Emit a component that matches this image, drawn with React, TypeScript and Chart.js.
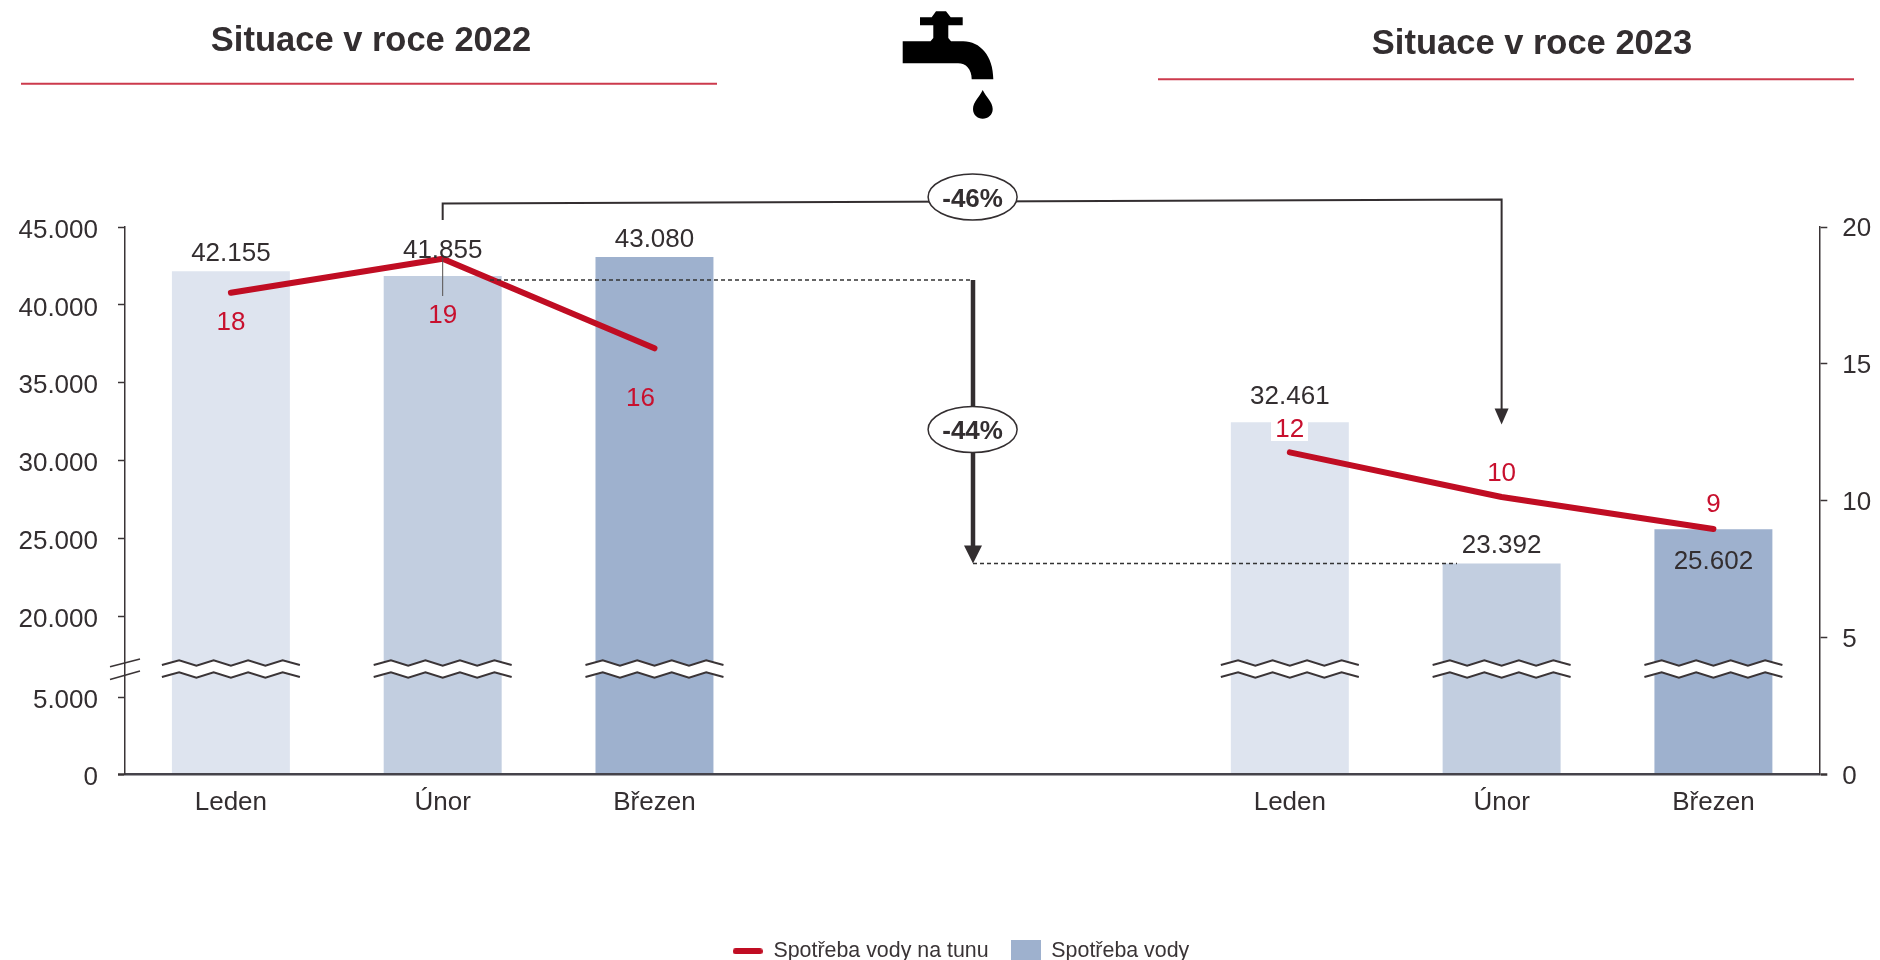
import React, { useEffect, useRef } from "react";
import { Chart, LinearScale, registerables } from "chart.js";

const categories = ["Leden", "Únor", "Březen", "", "", "Leden", "Únor", "Březen"];
const waterUse = [42155, 41855, 43080, null, null, 32461, 23392, 25602];
const waterPerTon = [17.6, 18.84, 15.57, null, null, 11.77, 10.14, 8.97];
const perTonLabels = ["18", "19", "16", "", "", "12", "10", "9"];
const barColors = ["#dee4ef", "#c2cee0", "#9eb1ce", "#dee4ef", "#c2cee0", "#dee4ef", "#c2cee0", "#9eb1ce"];
const leftTicks = [0, 5000, 20000, 25000, 30000, 35000, 40000, 45000];
const rightTicks = [0, 5, 10, 15, 20];
const titles = ["Situace v roce 2022", "Situace v roce 2023"];
const badges = ["-46%", "-44%"];
const legendNames = ["Spotřeba vody na tunu", "Spotřeba vody"];

// Piecewise axis: the range between 5.000 and 20.000 is compressed by the axis break.
const axisBreakValues = [0, 5000, 20000, 45000];
const axisBreakFractions = [0, 77 / 547, 158 / 547, 1];

// Offsets of value labels from their marks (px)
const barLabelDy = [-17.5, -25.5, -17.5, 0, 0, -25.5, -17.5, 32.5];
const lineLabelDy = [30.5, 57.5, 50.5, 0, 0, -22.5, -23.5, -24.5];
const lineLabelDx = [0, 0, -14, 0, 0, 0, 0, 0];

const FONT = '"Liberation Sans", Arial, sans-serif';
const DARK = "#332e30";
const AXIS = "#3a3436";
const RED = "#c8102e";
const LINE_RED = "#c00d23";
const RULE_RED = "#cc3a4c";

class BrokenScale extends LinearScale {
  static id = "brokenLinear";
  static defaults = LinearScale.defaults;
  getPixelForValue(value: number) {
    if (value === null || value === undefined) return NaN;
    const vs = axisBreakValues;
    const fs = axisBreakFractions;
    let i = 0;
    while (i < vs.length - 2 && value > vs[i + 1]) i++;
    const f = fs[i] + ((value - vs[i]) / (vs[i + 1] - vs[i])) * (fs[i + 1] - fs[i]);
    return this.getPixelForDecimal(f);
  }
}

Chart.register(...registerables, BrokenScale);

const thousands = (v: number) => String(v).replace(/\B(?=(\d{3})+$)/g, ".");

function swatch(w: number, h: number, draw: (c: CanvasRenderingContext2D) => void) {
  const cv = document.createElement("canvas");
  cv.width = w;
  cv.height = h;
  draw(cv.getContext("2d")!);
  return cv;
}

function text(ctx: CanvasRenderingContext2D, s: string, x: number, y: number, font: string, color: string) {
  ctx.font = font;
  ctx.fillStyle = color;
  ctx.textAlign = "center";
  ctx.textBaseline = "middle";
  ctx.fillText(s, x, y);
}

function poly(ctx: CanvasRenderingContext2D, pts: number[][]) {
  ctx.beginPath();
  pts.forEach((p, i) => (i ? ctx.lineTo(p[0], p[1]) : ctx.moveTo(p[0], p[1])));
}

function arrowHead(ctx: CanvasRenderingContext2D, x: number, tip: number, w: number, h: number) {
  poly(ctx, [[x - w / 2, tip - h], [x + w / 2, tip - h], [x, tip]]);
  ctx.closePath();
  ctx.fillStyle = DARK;
  ctx.fill();
}

function drawTap(ctx: CanvasRenderingContext2D) {
  const p = new Path2D(
    "M920 17.3 H931.7 L936 11.3 H946 L950.7 17.3 H962.7 V25.3 H948.3 V38 L951 41.3 H963.3 " +
      "C980 41.3 993.3 56 993.3 79.3 H971.7 C971.7 69 966 63.3 958 63.3 H902.7 V41.3 H930.5 L933.3 38 V25.3 H920 Z"
  );
  ctx.fillStyle = "#000";
  ctx.fill(p);
  const d = new Path2D("M982.7 90 C986 97 992.7 102 992.7 109 C992.7 115 988 118.7 982.7 118.7 C977.5 118.7 973 115 973 109 C973 102 979.5 97 982.7 90 Z");
  ctx.fill(d);
}

const legendShift = {
  id: "legendShift",
  afterLayout(chart: any) {
    chart.legend.left += 42;
    chart.legend.top += 12;
  },
};

const overlay = {
  id: "overlay",
  afterDatasetsDraw(chart: any) {
    const ctx: CanvasRenderingContext2D = chart.ctx;
    const barMeta = chart.getDatasetMeta(1);
    const lineMeta = chart.getDatasetMeta(0);
    const xs = chart.scales.x;
    ctx.save();

    // break marks over the bars
    const halfSpan = 69;
    const step = 138 / 8;
    waterUse.forEach((v, i) => {
      if (v === null) return;
      const cx = barMeta.data[i].x;
      const up: number[][] = [];
      const low: number[][] = [];
      for (let k = 0; k <= 8; k++) {
        const x = cx - halfSpan + k * step;
        const y = k === 0 || k === 8 ? 665 : k % 2 ? 660.4 : 665.8;
        up.push([x, y]);
        low.push([x, y + 12]);
      }
      poly(ctx, [...up, ...low.slice().reverse()]);
      ctx.closePath();
      ctx.fillStyle = "#fff";
      ctx.fill();
      ctx.strokeStyle = AXIS;
      ctx.lineWidth = 2;
      ctx.lineJoin = "miter";
      poly(ctx, up);
      ctx.stroke();
      poly(ctx, low);
      ctx.stroke();
    });

    // thin stem under the middle 2022 point
    ctx.strokeStyle = "#55504f";
    ctx.lineWidth = 1;
    poly(ctx, [[xs.getPixelForValue(1), 258], [xs.getPixelForValue(1), 296]]);
    ctx.stroke();

    // white plate behind the label 12
    ctx.fillStyle = "#fff";
    ctx.fillRect(1271, 421, 37, 20);

    // value labels
    const f26 = `26px ${FONT}`;
    waterUse.forEach((v, i) => {
      if (v === null) return;
      const el = barMeta.data[i];
      text(ctx, thousands(v), el.x, el.y + barLabelDy[i], f26, DARK);
    });
    perTonLabels.forEach((s, i) => {
      if (!s) return;
      const el = lineMeta.data[i];
      text(ctx, s, el.x + lineLabelDx[i], el.y + lineLabelDy[i], f26, RED);
    });

    // dashed guides
    ctx.strokeStyle = "#333";
    ctx.lineWidth = 1.3;
    ctx.setLineDash([4, 3]);
    poly(ctx, [[490, 280], [972, 280]]);
    ctx.stroke();
    poly(ctx, [[973, 563.5], [1457, 563.5]]);
    ctx.stroke();
    ctx.setLineDash([]);

    // -46% connector
    const a = xs.getPixelForValue(1);
    const b = xs.getPixelForValue(6);
    ctx.strokeStyle = DARK;
    ctx.lineWidth = 2;
    poly(ctx, [[a, 220], [a, 203.5], [b, 199.5], [b, 412]]);
    ctx.stroke();
    arrowHead(ctx, b, 424.5, 14, 16);

    // -44% arrow
    ctx.lineWidth = 4.5;
    poly(ctx, [[973, 280], [973, 548]]);
    ctx.stroke();
    arrowHead(ctx, 973, 563.5, 18, 18);

    // badges
    [[972.6, 197], [972.6, 429.5]].forEach((c, i) => {
      ctx.beginPath();
      ctx.ellipse(c[0], c[1], 44.5, 23, 0, 0, Math.PI * 2);
      ctx.fillStyle = "#fff";
      ctx.fill();
      ctx.strokeStyle = DARK;
      ctx.lineWidth = 1.5;
      ctx.stroke();
      text(ctx, badges[i], c[0], c[1] + 2.5, `bold 26px ${FONT}`, DARK);
    });

    // left axis break
    ctx.fillStyle = "#fff";
    ctx.fillRect(122, 663, 6, 12);
    ctx.strokeStyle = AXIS;
    ctx.lineWidth = 1.5;
    poly(ctx, [[110, 666.7], [140, 659]]);
    ctx.stroke();
    poly(ctx, [[110, 679.5], [140, 671]]);
    ctx.stroke();

    // headings
    const fb = `bold 34.5px ${FONT}`;
    text(ctx, titles[0], 371, 41.5, fb, DARK);
    text(ctx, titles[1], 1532, 44.5, fb, DARK);
    ctx.strokeStyle = RULE_RED;
    ctx.lineWidth = 2;
    poly(ctx, [[21, 83.7], [717, 83.7]]);
    ctx.stroke();
    poly(ctx, [[1158, 79.3], [1854, 79.3]]);
    ctx.stroke();

    drawTap(ctx);
    ctx.restore();
  },
};

export default function App() {
  const ref = useRef<HTMLCanvasElement>(null);
  useEffect(() => {
    Chart.defaults.font.family = FONT;
    const lineSwatch = swatch(30, 6, (c) => {
      c.fillStyle = LINE_RED;
      c.beginPath();
      c.roundRect(0, 0, 30, 6, 3);
      c.fill();
    });
    const barSwatch = swatch(30, 23, (c) => {
      c.fillStyle = "#9eb1ce";
      c.fillRect(0, 0, 30, 23);
    });
    const chart = new Chart(ref.current!, {
      type: "bar",
      data: {
        labels: categories,
        datasets: [
          {
            type: "line",
            label: legendNames[0],
            data: waterPerTon,
            yAxisID: "y1",
            borderColor: LINE_RED,
            backgroundColor: LINE_RED,
            borderWidth: 6,
            borderCapStyle: "round",
            borderJoinStyle: "round",
            pointRadius: 0,
            tension: 0,
            spanGaps: false,
            order: 0,
          },
          {
            type: "bar",
            label: legendNames[1],
            data: waterUse,
            yAxisID: "y",
            backgroundColor: barColors,
            barPercentage: 1,
            categoryPercentage: 0.557,
            order: 1,
          },
        ],
      } as any,
      options: {
        responsive: false,
        animation: false,
        devicePixelRatio: 1,
        layout: { autoPadding: false, padding: { left: 0, top: 227, right: 0, bottom: 0 } },
        plugins: {
          title: { display: false },
          tooltip: { enabled: false },
          legend: {
            position: "bottom",
            labels: {
              usePointStyle: true,
              pointStyleWidth: 30,
              padding: 22,
              color: AXIS,
              font: { size: 21.4, family: FONT },
              generateLabels: () => [
                { text: legendNames[0], pointStyle: lineSwatch, fillStyle: LINE_RED, strokeStyle: LINE_RED, lineWidth: 0, datasetIndex: 0, fontColor: AXIS },
                { text: legendNames[1], pointStyle: barSwatch, fillStyle: "#9eb1ce", strokeStyle: "#9eb1ce", lineWidth: 0, datasetIndex: 1, fontColor: AXIS },
              ],
            },
          },
        },
        scales: {
          x: {
            type: "category",
            offset: true,
            afterFit: (s: any) => {
              s.height = 132;
            },
            grid: { display: false, drawTicks: false },
            border: { color: "#45434a", width: 2.5, z: 1 },
            ticks: {
              color: DARK,
              font: { size: 26, family: FONT },
              padding: 13,
              maxRotation: 0,
              autoSkip: false,
            },
          },
          y: {
            type: "brokenLinear",
            position: "left",
            min: 0,
            max: 45000,
            afterFit: (s: any) => {
              s.width = 125;
            },
            afterBuildTicks: (s: any) => {
              s.ticks = leftTicks.map((value) => ({ value }));
            },
            grid: {
              drawOnChartArea: false,
              drawTicks: true,
              tickLength: 7,
              tickColor: AXIS,
              tickWidth: (c: any) => (c.tick && c.tick.value === 0 ? 2.5 : 1.5),
            },
            border: { color: AXIS, width: 1.5, z: 1 },
            ticks: {
              color: DARK,
              font: { size: 26, family: FONT },
              padding: 20,
              labelOffset: 3.5,
              autoSkip: false,
              callback: (v: any) => thousands(v),
            },
          } as any,
          y1: {
            type: "linear",
            position: "right",
            min: 0,
            max: 20,
            afterFit: (s: any) => {
              s.width = 60.7;
            },
            afterBuildTicks: (s: any) => {
              s.ticks = rightTicks.map((value) => ({ value }));
            },
            grid: {
              drawOnChartArea: false,
              drawTicks: true,
              tickLength: 8,
              tickColor: AXIS,
              tickWidth: (c: any) => (c.tick && c.tick.value === 0 ? 2.5 : 1.5),
            },
            border: { color: AXIS, width: 1.5, z: 1 },
            ticks: {
              color: DARK,
              font: { size: 26, family: FONT },
              padding: 15,
              labelOffset: 2,
              autoSkip: false,
            },
          },
        },
      } as any,
      plugins: [legendShift, overlay],
    });
    return () => chart.destroy();
  }, []);
  return (
    <canvas
      ref={ref}
      width={1880}
      height={960}
      style={{ position: "absolute", left: 0, top: 0, width: 1880, height: 960 }}
    />
  );
}
